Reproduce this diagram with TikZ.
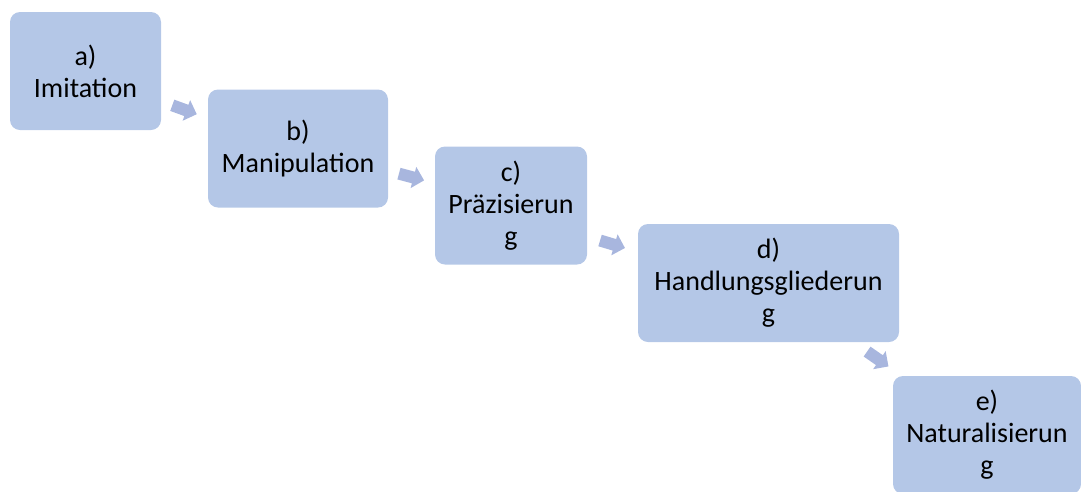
\documentclass[tikz,border=0pt]{standalone}
\usepackage{fontspec}
\setmainfont{Carlito}
\usetikzlibrary{calc}
\definecolor{boxblue}{HTML}{B4C7E7}
\definecolor{arrowblue}{HTML}{A8B6DE}

\begin{document}
\begin{tikzpicture}[x=1pt, y=-1pt,
  stage/.style={fill=boxblue, rounded corners=10pt, align=center, inner sep=0pt, minimum height=118pt, font=\fontsize{28}{32}\selectfont},
  pics/stagearrow/.style={code={\fill[arrowblue] (-13,-6) -- (2,-6) -- (2,-11) -- (13,0) -- (2,11) -- (2,6) -- (-13,6) -- cycle;}}]
\useasboundingbox (0,0) rectangle (1081,491);
\node (A)[stage, minimum width=151pt] at (85.5,71) {a)\\Imitation};
\node (B)[stage, minimum width=180pt] at (298,148.5) {b)\\Manipulation};
\node (C)[stage, minimum width=152pt] at (511,205.5) {c)\\Präzisierun\\g};
\node (D)[stage, minimum width=261pt] at (768.5,283) {d)\\Handlungsgliederun\\g};
\node (E)[stage, minimum width=188pt] at (987,435) {e)\\Naturalisierun\\g};
% arrows between the stages
\path let \p1=($(B)-(A)$), \n1={atan2(\y1,\x1)} in ($(A.east)!0.5!(B.west)$) pic[rotate=\n1] {stagearrow};
\path let \p1=($(C)-(B)$), \n1={atan2(\y1,\x1)} in ($(B.east)!0.5!(C.west)$) pic[rotate=\n1] {stagearrow};
\path let \p1=($(D)-(C)$), \n1={atan2(\y1,\x1)} in ($(C.east)!0.5!(D.west)$) pic[rotate=\n1] {stagearrow};
\path let \p1=($(E)-(D)$), \n1={atan2(\y1,\x1)} in ($(D)!0.5!(E)$) pic[rotate=\n1] {stagearrow};
\end{tikzpicture}
\end{document}
